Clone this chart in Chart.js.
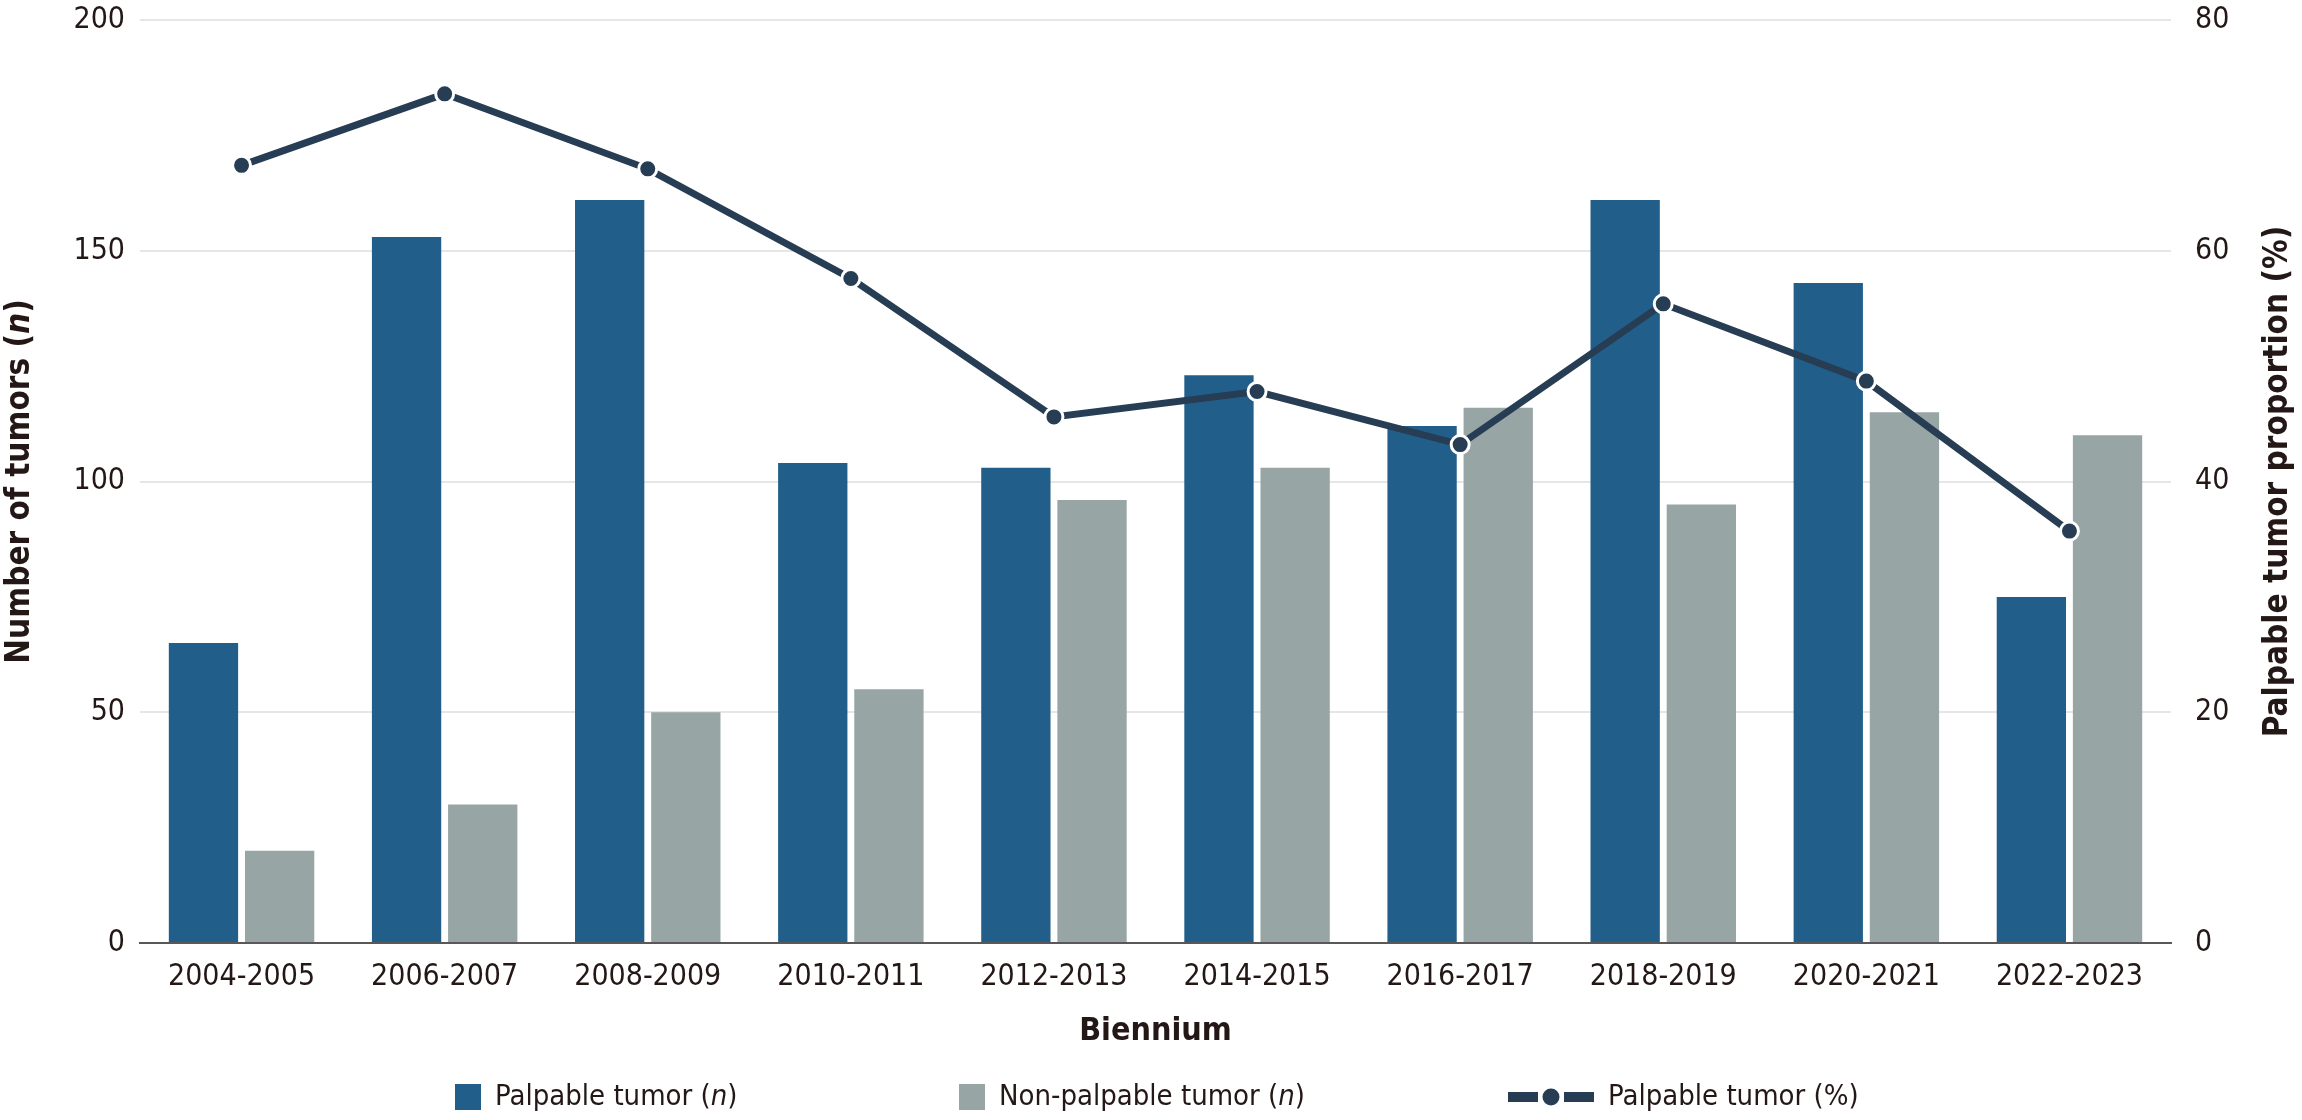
<!DOCTYPE html>
<html>
<head>
<meta charset="utf-8">
<script src="https://cdn.jsdelivr.net/npm/chart.js@4.4.1/dist/chart.umd.min.js"></script>
<style>
  html, body { margin: 0; padding: 0; background: #fff; }
  #wrap { width: 2302px; height: 1120px; }
</style>
</head>
<body>
<div id="wrap"><canvas id="tumorChart" width="2302" height="1120"></canvas></div>
<script>
// Data
const bienniums = ['2004-2005', '2006-2007', '2008-2009', '2010-2011', '2012-2013',
                   '2014-2015', '2016-2017', '2018-2019', '2020-2021', '2022-2023'];
const palpableCount = [65, 153, 161, 104, 103, 123, 112, 161, 143, 75];
const nonPalpableCount = [20, 30, 50, 55, 96, 103, 116, 95, 115, 110];
const palpablePercent = [67.4, 73.6, 67.1, 57.6, 45.6, 47.8, 43.2, 55.4, 48.7, 35.7];
const countTicks = [0, 50, 100, 150, 200];
const percentTicks = [0, 20, 40, 60, 80];

// Colours
const blue = '#215f8a';
const grey = '#97a5a5';
const navy = '#263d54';
const textColor = '#231815';

const fontFamily = '"DejaVu Sans Condensed", "DejaVu Sans", sans-serif';
const tickFont = { family: fontFamily, size: 30 };

// text pieces, italic flag per piece
const leftTitle = [['Number of tumors (', false], ['n', true], [')', false]];
const rightTitle = [['Palpable tumor proportion (%)', false]];
const bottomTitle = [['Biennium', false]];
const legendLabels = [
  [['Palpable tumor (', false], ['n', true], [')', false]],
  [['Non-palpable tumor (', false], ['n', true], [')', false]],
  [['Palpable tumor (%)', false]]
];

function drawParts(ctx, parts, weight, size, cx, cy, align) {
  let total = 0;
  parts.forEach(p => {
    ctx.font = (p[1] ? 'italic ' : '') + weight + ' ' + size + 'px ' + fontFamily;
    total += ctx.measureText(p[0]).width;
  });
  let x = align === 'left' ? cx : cx - total / 2;
  ctx.textBaseline = 'middle';
  ctx.textAlign = 'left';
  parts.forEach(p => {
    ctx.font = (p[1] ? 'italic ' : '') + weight + ' ' + size + 'px ' + fontFamily;
    ctx.fillText(p[0], x, cy);
    x += ctx.measureText(p[0]).width;
  });
  return total;
}

// Axis titles + legend drawn by hand (mixed italic text)
const annotations = {
  id: 'annotations',
  afterDraw(chart) {
    const ctx = chart.ctx;
    const area = chart.chartArea;
    const midY = (area.top + area.bottom) / 2;
    const midX = (area.left + area.right) / 2;
    ctx.save();
    ctx.fillStyle = textColor;

    // left title
    ctx.save();
    ctx.translate(20, midY);
    ctx.rotate(-Math.PI / 2);
    drawParts(ctx, leftTitle, 'bold', 33, 0, 0, 'center');
    ctx.restore();

    // right title
    ctx.save();
    ctx.translate(2278, midY);
    ctx.rotate(-Math.PI / 2);
    drawParts(ctx, rightTitle, 'bold', 33, 0, 0, 'center');
    ctx.restore();

    // bottom title
    drawParts(ctx, bottomTitle, 'bold', 32, midX, 1032, 'center');

    // legend
    const ly = 1097;
    const itemX = [455, 959, 1508];
    const ds = chart.data.datasets;
    // bar swatches (datasets 1 and 2 are the bars)
    [1, 2].forEach((d, i) => {
      ctx.fillStyle = ds[d].backgroundColor;
      ctx.fillRect(itemX[i], ly - 13, 26, 26);
      ctx.fillStyle = textColor;
      drawParts(ctx, legendLabels[i], 'normal', 29, itemX[i] + 40, ly, 'left');
    });
    // line swatch
    const lx = itemX[2];
    ctx.fillStyle = navy;
    ctx.fillRect(lx, ly - 5, 30, 10);
    ctx.fillRect(lx + 56, ly - 5, 30, 10);
    ctx.beginPath();
    ctx.arc(lx + 43, ly, 10, 0, Math.PI * 2);
    ctx.fillStyle = navy;
    ctx.fill();
    ctx.lineWidth = 3;
    ctx.strokeStyle = '#fff';
    ctx.stroke();
    ctx.fillStyle = textColor;
    drawParts(ctx, legendLabels[2], 'normal', 29, lx + 100, ly, 'left');

    ctx.restore();
  }
};

const chartCtx = document.getElementById('tumorChart');
new Chart(chartCtx, {
  type: 'bar',
  data: {
    labels: bienniums,
    datasets: [
      {
        type: 'line',
        label: 'Palpable tumor (%)',
        data: palpablePercent,
        yAxisID: 'yPct',
        borderColor: navy,
        borderWidth: 7,
        pointRadius: 9,
        pointBackgroundColor: navy,
        pointBorderColor: '#fff',
        pointBorderWidth: 3,
        tension: 0,
        order: 0
      },
      {
        label: 'Palpable tumor (n)',
        data: palpableCount,
        yAxisID: 'yCount',
        backgroundColor: blue,
        categoryPercentage: 0.75,
        barPercentage: 0.91,
        order: 1
      },
      {
        label: 'Non-palpable tumor (n)',
        data: nonPalpableCount,
        yAxisID: 'yCount',
        backgroundColor: grey,
        categoryPercentage: 0.75,
        barPercentage: 0.91,
        order: 2
      }
    ]
  },
  options: {
    responsive: false,
    devicePixelRatio: 1,
    animation: false,
    layout: { padding: { top: 20, left: 0, right: 0, bottom: 0 } },
    scales: {
      x: {
        offset: true,
        grid: { display: false, drawTicks: false },
        border: { display: true, color: '#595757', width: 2 },
        ticks: { font: tickFont, color: textColor, padding: 16, maxRotation: 0 },
        afterFit: scale => { scale.height = 177; scale.paddingLeft = 0; scale.paddingRight = 0; }
      },
      yCount: {
        position: 'left',
        min: countTicks[0],
        max: countTicks[countTicks.length - 1],
        afterBuildTicks: scale => { scale.ticks = countTicks.map(v => ({ value: v })); },
        grid: { color: '#e6e6e6', lineWidth: 2, drawTicks: false },
        border: { display: false },
        ticks: { font: tickFont, color: textColor, padding: 15 },
        afterFit: scale => { scale.width = 140; scale.paddingTop = 0; scale.paddingBottom = 0; }
      },
      yPct: {
        position: 'right',
        min: percentTicks[0],
        max: percentTicks[percentTicks.length - 1],
        afterBuildTicks: scale => { scale.ticks = percentTicks.map(v => ({ value: v })); },
        grid: { display: false, drawTicks: false },
        border: { display: false },
        ticks: { font: tickFont, color: textColor, padding: 24 },
        afterFit: scale => { scale.width = 131; scale.paddingTop = 0; scale.paddingBottom = 0; }
      }
    },
    plugins: {
      legend: { display: false },
      tooltip: { enabled: false }
    }
  },
  plugins: [annotations]
});
</script>
</body>
</html>
